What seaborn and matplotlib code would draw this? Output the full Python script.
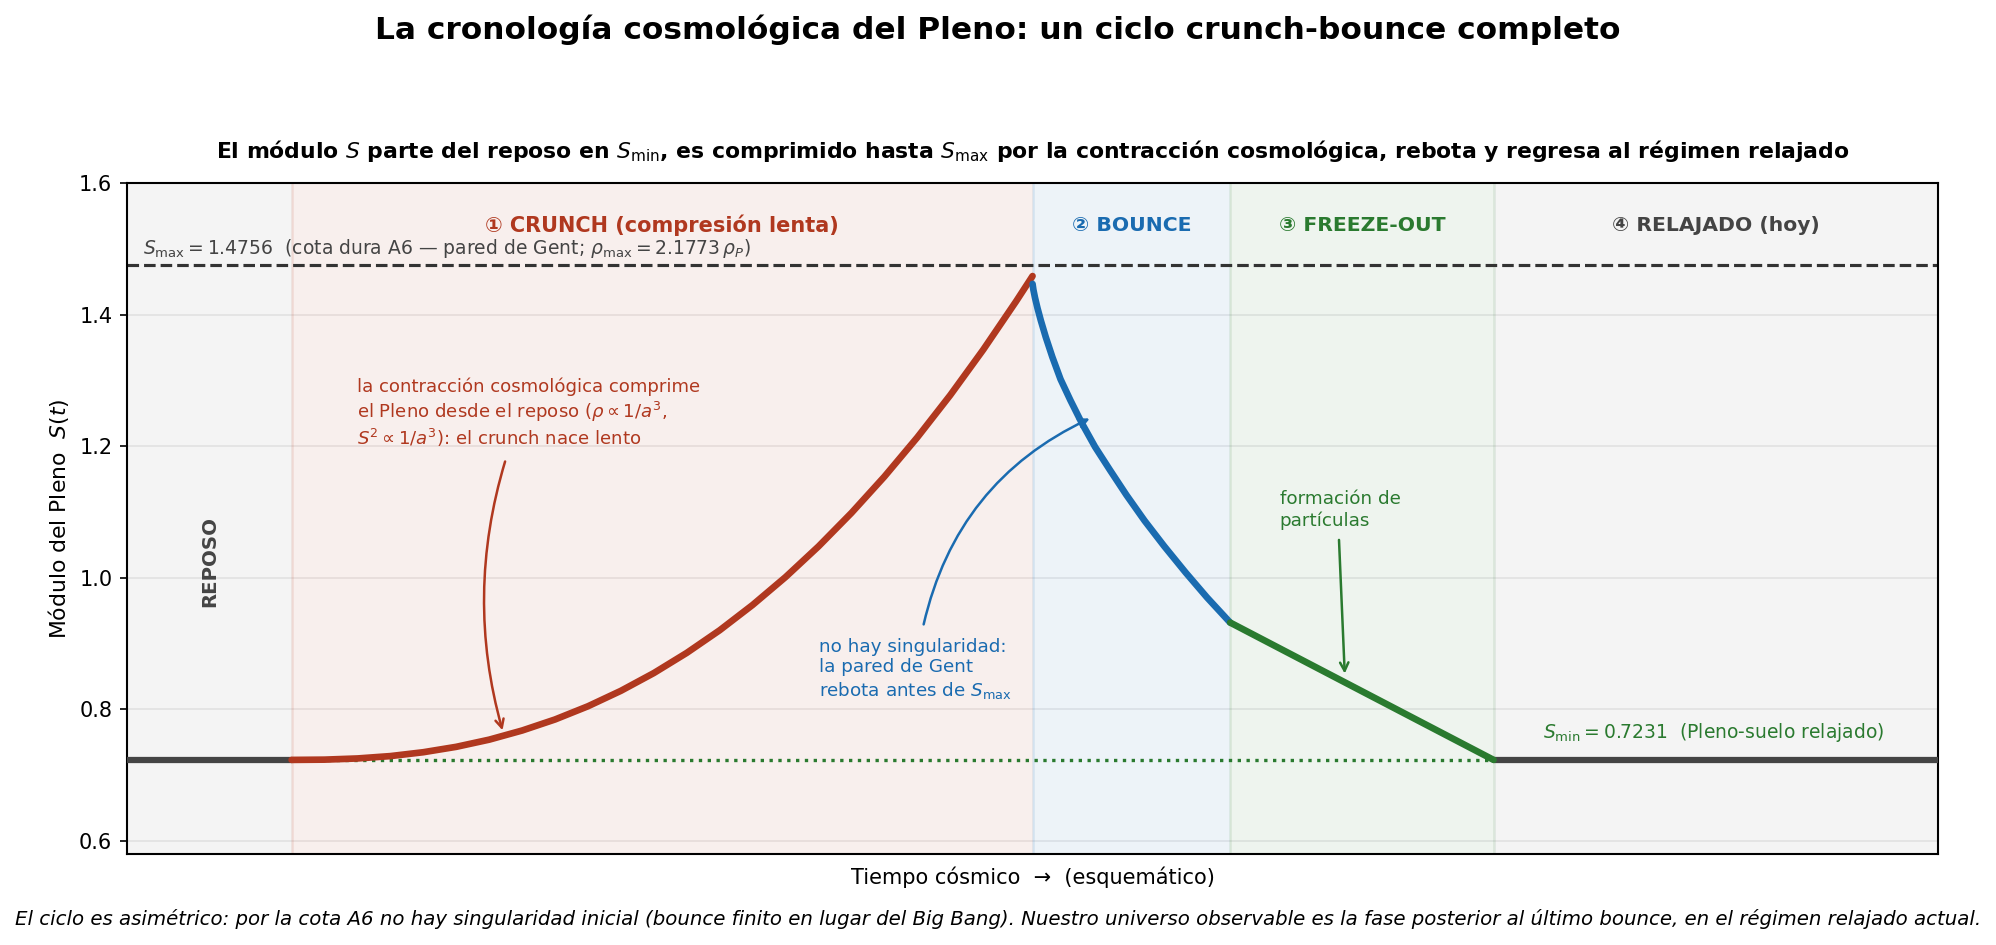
import matplotlib
matplotlib.use("Agg")
import matplotlib.pyplot as plt
import numpy as np
import pandas as pd
import seaborn as sns

# --- values ---
S_MIN = 0.7231
S_MAX = 1.4756

# phase boundaries (schematic time units)
T_START, T_CRUNCH, T_BOUNCE, T_FREEZE, T_RELAX, T_END = -1.0, 0.0, 4.5, 5.7, 7.3, 10.0

crunch_t = [0.0, 0.2, 0.4, 0.6, 0.8, 1.0, 1.2, 1.4, 1.6, 1.8, 2.0, 2.2, 2.4,
            2.6, 2.8, 3.0, 3.2, 3.4, 3.6, 3.8, 4.0, 4.2, 4.4, 4.5]
crunch_s = [0.7231, 0.7235, 0.7253, 0.7289, 0.7348, 0.7430, 0.7539, 0.7678,
            0.7846, 0.8047, 0.8282, 0.8552, 0.8859, 0.9203, 0.9588, 1.0012,
            1.0478, 1.0987, 1.1539, 1.2136, 1.2778, 1.3468, 1.4205, 1.459]

bounce_t = [4.5, 4.505, 4.515, 4.53, 4.55, 4.58, 4.62, 4.67, 4.73, 4.80, 4.88,
            4.97, 5.07, 5.18, 5.30, 5.43, 5.56, 5.70]
bounce_s = [1.447, 1.4382, 1.4259, 1.4102, 1.3916, 1.3663, 1.336, 1.302, 1.270,
            1.235, 1.199, 1.164, 1.126, 1.087, 1.048, 1.008, 0.970, 0.932]

freeze_t = [5.7, 7.3]
freeze_s = [0.932, S_MIN]

rest_t = [-1.0, 0.0]
relax_t = [7.3, 10.0]

C_RED = "#b0381f"
C_BLUE = "#1a6bb0"
C_GREEN = "#2a7a2f"
C_GRAY = "#444444"

sns.set_style("ticks")
plt.rcParams.update({"text.color": "black", "axes.labelcolor": "black",
                     "xtick.color": "black", "ytick.color": "black"})

fig = plt.figure(figsize=(13.307, 6.3), dpi=150)
ax = fig.add_axes([0.0636, 0.0963, 0.9074, 0.7097])

# phase shading
ax.axvspan(T_START, T_CRUNCH, color="#999999", alpha=0.10, lw=0)
ax.axvspan(T_CRUNCH, T_BOUNCE, color=C_RED, alpha=0.08, lw=0)
ax.axvspan(T_BOUNCE, T_FREEZE, color=C_BLUE, alpha=0.08, lw=0)
ax.axvspan(T_FREEZE, T_RELAX, color=C_GREEN, alpha=0.08, lw=0)
ax.axvspan(T_RELAX, T_END, color="#999999", alpha=0.10, lw=0)
for xb, c in [(T_CRUNCH, C_RED), (T_BOUNCE, C_BLUE), (T_FREEZE, C_GREEN), (T_RELAX, C_GREEN)]:
    ax.axvline(xb, color=c, alpha=0.12, lw=1.2, zorder=1)

ax.grid(axis="y", color="#dddddd", alpha=0.6, lw=0.8, zorder=0)

# reference levels
ax.axhline(S_MAX, color="#333333", ls="--", lw=1.5, zorder=2)
ax.hlines(S_MIN, T_CRUNCH, T_RELAX, color=C_GREEN, ls=":", lw=1.6, zorder=2)

# curves
sns.lineplot(x=rest_t, y=[S_MIN, S_MIN], color=C_GRAY, lw=3, ax=ax, zorder=3)
sns.lineplot(x=relax_t, y=[S_MIN, S_MIN], color=C_GRAY, lw=3, ax=ax, zorder=3)
for tt, ss, c in [(crunch_t, crunch_s, C_RED), (bounce_t, bounce_s, C_BLUE),
                  (freeze_t, freeze_s, C_GREEN)]:
    sns.lineplot(x=tt, y=ss, color=c, lw=3.2, ax=ax, zorder=4,
                 sort=False, estimator=None)

# phase labels
ax.text(2.25, 1.536, "① CRUNCH (compresión lenta)", color=C_RED, fontsize=10,
        fontweight="bold", ha="center", va="center")
ax.text(5.1, 1.536, "② BOUNCE", color=C_BLUE, fontsize=9.8, fontweight="bold",
        ha="center", va="center")
ax.text(6.5, 1.536, "③ FREEZE-OUT", color=C_GREEN, fontsize=9.8, fontweight="bold",
        ha="center", va="center")
ax.text(8.65, 1.536, "④ RELAJADO (hoy)", color=C_GRAY, fontsize=9.8, fontweight="bold",
        ha="center", va="center")
ax.text(-0.5, 1.025, "REPOSO", color=C_GRAY, fontsize=9.5, fontweight="bold",
        rotation=90, ha="center", va="center")

ax.text(-0.9, 1.484,
        r"$S_{\max} = 1.4756$  (cota dura A6 — pared de Gent; $\rho_{\max} = 2.1773\,\rho_P$)",
        color=C_GRAY, fontsize=9, ha="left", va="bottom")
ax.text(7.6, 0.748, r"$S_{\min} = 0.7231$  (Pleno-suelo relajado)",
        color=C_GREEN, fontsize=9, ha="left", va="bottom")

# annotations
ax.text(0.40, 1.305,
        "la contracción cosmológica comprime\n"
        r"el Pleno desde el reposo ($\rho \propto 1/a^3$," "\n"
        r"$S^2 \propto 1/a^3$): el crunch nace lento",
        color=C_RED, fontsize=8.7, ha="left", va="top")
ax.annotate("", xy=(1.288, 0.762), xytext=(1.304, 1.183),
            arrowprops=dict(arrowstyle="->", color=C_RED, lw=1.2,
                            connectionstyle="arc3,rad=0.15"))

ax.text(3.20, 0.909,
        "no hay singularidad:\nla pared de Gent\n" r"rebota antes de $S_{\max}$",
        color=C_BLUE, fontsize=8.8, ha="left", va="top")
ax.annotate("", xy=(4.87, 1.245), xytext=(3.833, 0.923),
            arrowprops=dict(arrowstyle="->", color=C_BLUE, lw=1.2,
                            connectionstyle="arc3,rad=-0.25"))

ax.text(6.0, 1.133, "formación de\npartículas", color=C_GREEN, fontsize=8.8,
        ha="left", va="top")
ax.annotate("", xy=(6.397, 0.848), xytext=(6.36, 1.064),
            arrowprops=dict(arrowstyle="->", color=C_GREEN, lw=1.2))

ax.set_xlim(T_START, T_END)
ax.set_ylim(0.58, 1.6)
ax.set_yticks(np.arange(0.6, 1.61, 0.2))
ax.set_xticks([])
ax.tick_params(axis="y", labelsize=10)
for sp in ax.spines.values():
    sp.set_color("black")
    sp.set_linewidth(1.0)

ax.set_xlabel("Tiempo cósmico  →  (esquemático)", fontsize=10, labelpad=6)
ax.set_ylabel(r"Módulo del Pleno  $S(t)$", fontsize=10.5)
ax.set_title(r"El módulo $S$ parte del reposo en $S_{\min}$, es comprimido hasta "
             r"$S_{\max}$ por la contracción cosmológica, rebota y regresa al régimen relajado",
             fontsize=10.5, fontweight="bold", pad=12)
fig.suptitle("La cronología cosmológica del Pleno: un ciclo crunch-bounce completo",
             fontsize=15, fontweight="bold", y=0.985)
fig.text(0.5, 0.028,
         "El ciclo es asimétrico: por la cota A6 no hay singularidad inicial (bounce finito en lugar "
         "del Big Bang). Nuestro universo observable es la fase posterior al último bounce, en el "
         "régimen relajado actual.",
         ha="center", va="center", fontsize=9.5, style="italic")

fig.savefig("out.png", dpi=150)
